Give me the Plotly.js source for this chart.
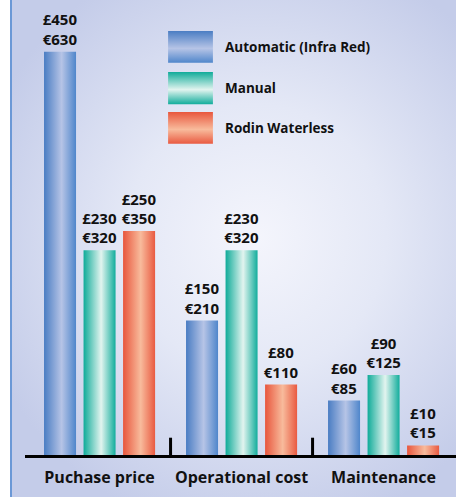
<!DOCTYPE html>
<html>
<head>
<meta charset="utf-8">
<script src="https://cdn.plot.ly/plotly-3.0.1.min.js"></script>
<style>
html,body{margin:0;padding:0;background:#fff;}
#wrap{position:relative;width:456px;height:497px;overflow:hidden;}
#bg{position:absolute;left:10px;top:0;width:446px;height:497px;
 border-left:2px solid #6b98d6;box-sizing:border-box;
 background:radial-gradient(ellipse 65% 60% at 55% 48%, #f4f5fc 0%, #e4e8f6 45%, #c4cce9 100%);}
#chart{position:absolute;left:0;top:0;width:456px;height:497px;}
</style>
</head>
<body>
<div id="wrap"><div id="bg"></div><div id="chart"></div></div>
<script>
const categories = ['Puchase price', 'Operational cost', 'Maintenance'];
const seriesNames = ['Automatic (Infra Red)', 'Manual', 'Rodin Waterless'];
const eurAutomatic = [630, 210, 85];
const eurManual = [320, 320, 125];
const eurRodin = [350, 110, 15];
const gbpAutomatic = [450, 150, 60];
const gbpManual = [230, 230, 90];
const gbpRodin = [250, 80, 10];

const eurSeries = [eurAutomatic, eurManual, eurRodin];
const gbpSeries = [gbpAutomatic, gbpManual, gbpRodin];
const baseColors = ['#5a8bcc', '#27b3a3', '#ee7a5e'];
const grads = [
  ['#4a7dc3', '#b6c4e6', '#4f86cb'],
  ['#0fab99', '#e2f4ef', '#12ad9c'],
  ['#e8563d', '#f8bb9c', '#e95a41']
];

const font = {family: '"Open Sans", sans-serif', color: '#111'};

const traces = seriesNames.map((name, i) => ({
  type: 'bar',
  name: name,
  x: categories,
  y: eurSeries[i],
  text: eurSeries[i].map((v, j) => '£' + gbpSeries[i][j] + '<br>€' + v),
  textposition: 'outside',
  constraintext: 'none',
  cliponaxis: false,
  textfont: {family: font.family, size: 15, weight: 700, color: '#111'},
  marker: {color: baseColors[i], line: {width: 0}},
  hoverinfo: 'skip',
  showlegend: false
}));

const shapes = [
  {type: 'line', xref: 'x', yref: 'paper', x0: 0.5, x1: 0.5, y0: 0, y1: 0.038, line: {color: '#000', width: 3}},
  {type: 'line', xref: 'x', yref: 'paper', x0: 1.5, x1: 1.5, y0: 0, y1: 0.038, line: {color: '#000', width: 3}}
];
const legendY = [[0.932, 0.862], [0.842, 0.771], [0.754, 0.684]];
const annotations = [];
seriesNames.forEach((name, i) => {
  shapes.push({type: 'rect', xref: 'paper', yref: 'paper', x0: 0.332, x1: 0.436,
    y0: legendY[i][1], y1: legendY[i][0], fillcolor: baseColors[i], line: {width: 0}, layer: 'above'});
  annotations.push({xref: 'paper', yref: 'paper', x: 0.46, y: (legendY[i][0] + legendY[i][1]) / 2,
    xanchor: 'left', yanchor: 'middle', showarrow: false, text: name,
    font: {family: font.family, size: 13.5, weight: 700, color: '#111'}});
});

const layout = {
  width: 456, height: 497,
  margin: {l: 25, r: 0, t: 0, b: 42},
  paper_bgcolor: 'rgba(0,0,0,0)',
  plot_bgcolor: 'rgba(0,0,0,0)',
  barmode: 'group',
  bargap: 0.165,
  bargroupgap: 0.19,
  showlegend: false,
  xaxis: {
    type: 'category',
    range: [-0.525, 2.51],
    showline: true, linecolor: '#000', linewidth: 3,
    ticks: '', showgrid: false, zeroline: false,
    ticklabelstandoff: 6,
    tickfont: {family: font.family, size: 16, weight: 700, color: '#111'}
  },
  yaxis: {
    range: [0, 711],
    visible: false, showgrid: false, zeroline: false
  },
  shapes: shapes,
  annotations: annotations
};

const gd = document.getElementById('chart');
Plotly.newPlot(gd, traces, layout, {staticPlot: true}).then(() => {
  const svg = gd.querySelector('.main-svg');
  const ns = 'http://www.w3.org/2000/svg';
  let defs = svg.querySelector('defs');
  if (!defs) { defs = document.createElementNS(ns, 'defs'); svg.insertBefore(defs, svg.firstChild); }
  function mkGrad(id, cols, vertical) {
    const g = document.createElementNS(ns, 'linearGradient');
    g.setAttribute('id', id);
    g.setAttribute('x1', '0'); g.setAttribute('y1', '0');
    g.setAttribute('x2', vertical ? '0' : '1'); g.setAttribute('y2', vertical ? '1' : '0');
    [[0, cols[0]], [0.55, cols[1]], [1, cols[2]]].forEach(([o, c]) => {
      const s = document.createElementNS(ns, 'stop');
      s.setAttribute('offset', o); s.setAttribute('stop-color', c);
      g.appendChild(s);
    });
    defs.appendChild(g);
  }
  grads.forEach((c, i) => { mkGrad('hg' + i, c, false); mkGrad('vg' + i, [c[0], c[1], c[2]], true); });
  gd.querySelectorAll('.barlayer .trace').forEach((tr, i) => {
    tr.querySelectorAll('.point path').forEach(p => { p.style.fill = 'url(#hg' + i + ')'; });
  });
  const shapePaths = gd.querySelectorAll('.shapelayer path');
  shapePaths.forEach(p => {
    const idx = +p.getAttribute('data-index');
    if (idx >= 2) p.style.fill = 'url(#vg' + (idx - 2) + ')';
  });
});
</script>
</body>
</html>
